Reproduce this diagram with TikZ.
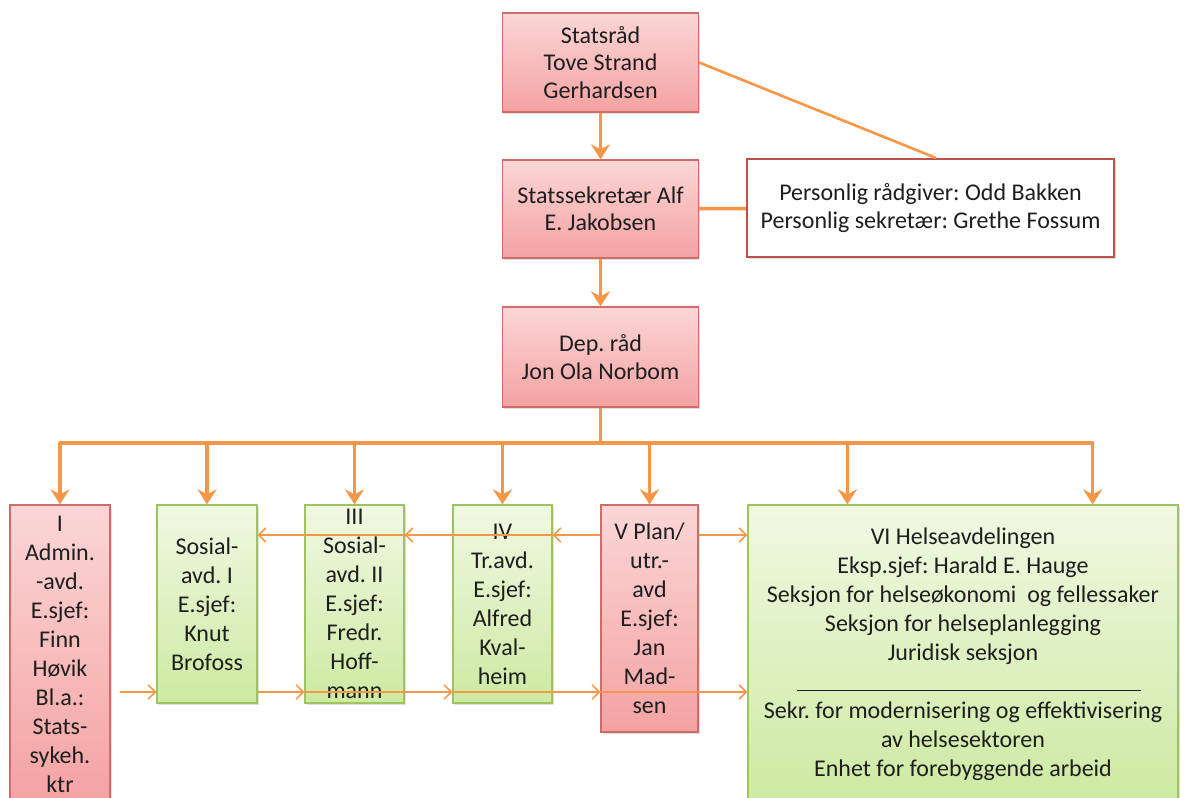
\documentclass[tikz,border=0pt]{standalone}
\usepackage{fontspec}
\setmainfont{Carlito}
\usetikzlibrary{arrows.meta,shadows,calc}
\definecolor{orng}{HTML}{F79646}
\definecolor{pinktop}{HTML}{FBD6D6}
\definecolor{pinkbot}{HTML}{F4A2A2}
\definecolor{pinkline}{HTML}{CF6B69}
\definecolor{greentop}{HTML}{F0F8E2}
\definecolor{greenbot}{HTML}{CDEAA2}
\definecolor{greenline}{HTML}{9FC45F}
\definecolor{txt}{HTML}{1E1E1E}
\definecolor{persline}{HTML}{C0504D}
\frenchspacing
\begin{document}
\begin{tikzpicture}[x=1pt,y=-1pt,
 box/.style={rectangle, inner sep=0pt, align=center, text=txt,
   drop shadow={shadow xshift=1.5pt,shadow yshift=-1.5pt,opacity=0.25}},
 topfont/.style={font=\fontsize{24}{27.5}\selectfont},
 botfont/.style={font=\fontsize{24}{29}\selectfont},
 pinkbox/.style={box, draw=pinkline, line width=1.3pt, top color=pinktop, bottom color=pinkbot},
 greenbox/.style={box, draw=greenline, line width=1.3pt, top color=greentop, bottom color=greenbot},
 thickarr/.style={draw=orng, line width=3.5pt, -{Stealth[length=15pt,width=19pt,inset=5pt]}},
 thickline/.style={draw=orng, line width=3.5pt},
 thinarr/.style={draw=orng, line width=1.6pt, -{Straight Barb[length=7pt,width=14pt]}},
]
\useasboundingbox (0,0) rectangle (1184,798);
\clip (0,0) rectangle (1184,798);
\fill[white] (0,0) rectangle (1184,798);

% top boxes
\node[pinkbox, topfont, minimum width=196pt, minimum height=99pt] (stat) at (600.5,62.5)
  {Statsråd\\Tove Strand\\Gerhardsen};
\node[pinkbox, topfont, minimum width=196pt, minimum height=98pt] (sek) at (600.5,209)
  {Statssekretær Alf\\E. Jakobsen};
\node[box, topfont, draw=persline, line width=2.2pt, fill=white, minimum width=367pt, minimum height=98pt] (pers) at (930.5,208)
  {Personlig rådgiver: Odd Bakken\\Personlig sekretær: Grethe Fossum};
\node[pinkbox, topfont, minimum width=196pt, minimum height=100pt] (dep) at (600.5,357)
  {Dep. råd\\Jon Ola Norbom};

% bottom boxes
\node[pinkbox, botfont, minimum width=100pt, minimum height=298pt] (I) at (60,654)
  {I\\Admin.\\-avd.\\E.sjef:\\Finn\\Høvik\\Bl.a.:\\Stats-\\sykeh.\\ktr};
\node[greenbox, botfont, minimum width=100pt, minimum height=198pt] (S1) at (207,604)
  {Sosial-\\avd. I\\E.sjef:\\Knut\\Brofoss};
\node[greenbox, botfont, minimum width=99pt, minimum height=198pt] (III) at (354.5,604)
  {III\\Sosial-\\avd. II\\E.sjef:\\Fredr.\\Hoff-\\mann};
\node[greenbox, botfont, minimum width=99pt, minimum height=198pt] (IV) at (502.5,604)
  {IV\\Tr.avd.\\E.sjef:\\Alfred\\Kval-\\heim};
\node[pinkbox, botfont, minimum width=97pt, minimum height=227pt] (V) at (649.5,618.5)
  {V Plan/\\utr.-\\avd\\E.sjef:\\Jan\\Mad-\\sen};
\node[greenbox, botfont, minimum width=430pt, minimum height=298pt] (VI) at (963,654)
  {VI Helseavdelingen\\Eksp.sjef: Harald E. Hauge\\Seksjon for helseøkonomi\ \ og fellessaker\\Seksjon for helseplanlegging\\Juridisk seksjon\\[29pt]Sekr. for modernisering og effektivisering\\av helsesektoren\\Enhet for forebyggende arbeid};
\draw[txt, line width=1.1pt] ($(VI.north west)+(50,186)$) -- ($(VI.north west)+(394,186)$);

% thick connectors
\draw[thickarr] (stat) -- (sek);
\draw[thickarr] (sek) -- (dep);
\draw[orng, line width=2.6pt] (stat.east) -- ($(pers.north west)+(190,0)$);
\draw[thickline] (sek) -- (pers);

\coordinate (bus) at (0,443);
\coordinate (d6) at ($(VI.north west)+(100,0)$);
\coordinate (d7) at ($(VI.north east)+(-86,0)$);
\draw[thickline] (dep.south) -- (dep.south |- bus);
\draw[thickline, line cap=round] (I.north |- bus) -- (d7 |- bus);
\foreach \t in {I.north,S1.north,III.north,IV.north,V.north,d6,d7}
  \draw[thickarr] (\t |- bus) -- (\t);

% thin connectors
\coordinate (up) at (0,535);
\coordinate (low) at (0,692);
\coordinate (lstart) at (120,692);
\draw[thinarr] (V.west |- up) -- (IV.east |- up);
\draw[thinarr] (IV.east |- up) -- (III.east |- up);
\draw[thinarr] (III.east |- up) -- (S1.east |- up);
\draw[thinarr] (V.east |- up) -- (VI.west |- up);
\draw[thinarr] (lstart) -- (S1.west |- low);
\draw[thinarr] (S1.east |- low) -- (III.west |- low);
\draw[thinarr] (III.west |- low) -- (IV.west |- low);
\draw[thinarr] (IV.west |- low) -- (V.west |- low);
\draw[thinarr] (V.west |- low) -- (VI.west |- low);
\end{tikzpicture}
\end{document}
